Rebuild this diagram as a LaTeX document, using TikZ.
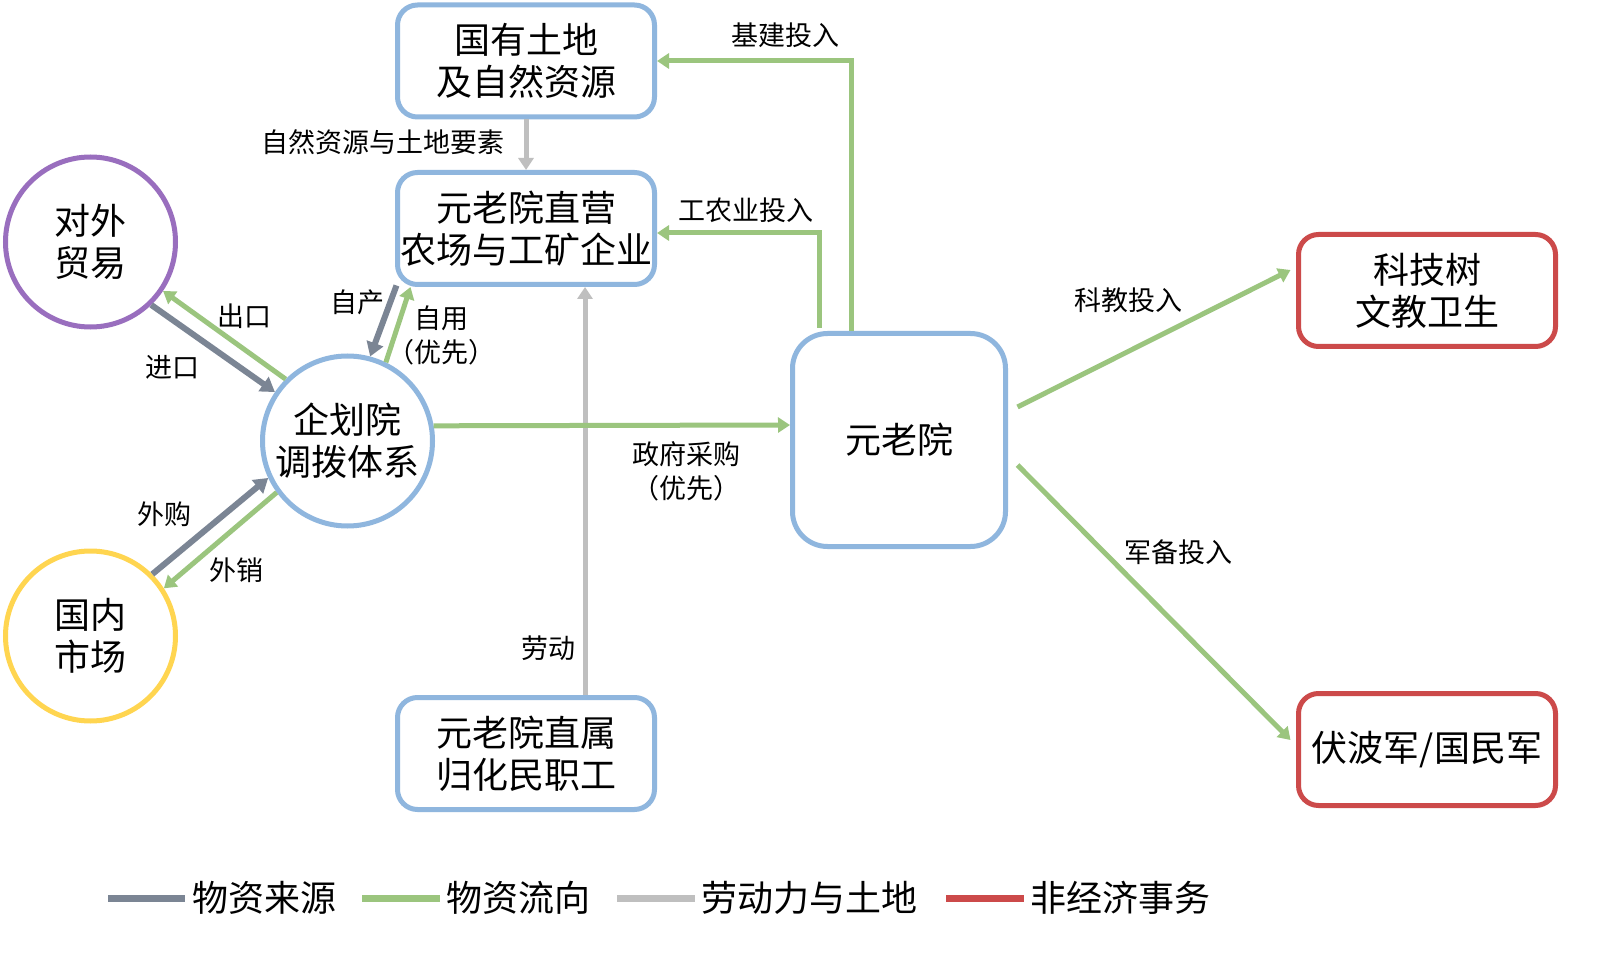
\documentclass[tikz,border=0pt]{standalone}
\usepackage{fontspec}
\setmainfont{Noto Sans CJK SC}
\usetikzlibrary{arrows.meta,calc}
\definecolor{cblue}{RGB}{143,182,222}
\definecolor{cgreen}{RGB}{155,197,126}
\definecolor{cgray}{RGB}{123,133,148}
\definecolor{clight}{RGB}{191,191,191}
\definecolor{cred}{RGB}{204,74,74}
\definecolor{cpurple}{RGB}{153,110,190}
\definecolor{cyellow}{RGB}{255,213,80}
\tikzset{
  box/.style={draw=cblue, line width=5pt, rounded corners=20pt, minimum width=257pt, minimum height=112pt, align=center, inner sep=0pt, font=\fontsize{36}{42}\selectfont},
  redbox/.style={box, draw=cred},
  circ/.style={circle, draw=#1, line width=5pt, minimum size=170pt, inner sep=0pt, align=center, font=\fontsize{36}{42}\selectfont},
  lbl/.style={font=\fontsize{27}{34}\selectfont, inner sep=0pt, align=center},
  legtext/.style={font=\fontsize{36}{42}\selectfont, inner sep=0pt, anchor=west},
  flow/.style={draw=cgreen, line width=5pt, -{Triangle[length=12pt,width=15pt]}},
  src/.style={draw=cgray, line width=6pt, -{Triangle[length=14pt,width=17pt]}},
  lab/.style={draw=clight, line width=5pt, -{Triangle[length=12pt,width=15pt]}}
}
\begin{document}
\begin{tikzpicture}[x=1pt,y=-1pt]
\useasboundingbox[fill=white] (0,0) rectangle (1622,973);
% nodes
\node[box] (land) at (526,61) {国有土地\\及自然资源};
\node[box] (farm) at (526,228.5) {元老院直营\\农场与工矿企业};
\node[box] (labor) at (526,753.5) {元老院直属\\归化民职工};
\node[box, rounded corners=35pt, minimum width=213pt, minimum height=213pt] (senate) at (899,440) {元老院};
\node[redbox] (tech) at (1427,290.5) {科技树\\文教卫生};
\node[redbox] (army) at (1427,749.5) {伏波军/国民军};
\node[circ=cpurple] (trade) at (90.5,242) {对外\\贸易};
\node[circ=cblue] (plan) at (347.5,441) {企划院\\调拨体系};
\node[circ=cyellow] (market) at (90.5,636) {国内\\市场};
% connectors
\draw[flow] ([xshift=-48pt]senate.north) |- (land.east);
\draw[flow] ([xshift=-80pt,yshift=3pt]senate.north) |- ([yshift=-4.5pt]farm.east);
\draw[lab] (land.south) -- (farm.north);
\draw[lab] ([xshift=59pt]labor.north) -- ([xshift=59pt]farm.south);
\draw[flow] (plan.10) -- ([yshift=15pt]senate.west);
\draw[flow] ([xshift=9.5pt,yshift=33pt]senate.east) -- ([xshift=-5.5pt,yshift=20.5pt]tech.west);
\draw[flow] ([xshift=9.5pt,yshift=-25pt]senate.east) -- ([xshift=-5.5pt,yshift=9.5pt]army.west);
\draw[src] ([xshift=1.5pt,yshift=1.5pt]farm.south west) -- (plan.75);
\draw[flow] (plan.64.5) -- ([xshift=15.5pt]farm.south west);
\draw[flow] (plan.135) -- (trade.-34.4);
\draw[src] (trade.-46.5) -- (plan.146.5);
\draw[src] (market.45.2) -- (plan.205.9);
\draw[flow] (plan.216.4) -- (market.33.3);
% labels
\node[lbl] (l1) at (785,35) {基建投入};
\node[lbl] (l2) at (746,210) {工农业投入};
\node[lbl] (l3) at (383,142) {自然资源与土地要素};
\node[lbl] (l4) at (548,648) {劳动};
\node[lbl] (l5) at (686,471) {政府采购\\（优先）};
\node[lbl] (l6) at (1128,300) {科教投入};
\node[lbl] (l7) at (1178,552) {军备投入};
\node[lbl] (l8) at (357,302) {自产};
\node[lbl] (l9) at (441,335) {自用\\（优先）};
\node[lbl] (l10) at (244,316) {出口};
\node[lbl] (l11) at (172,367) {进口};
\node[lbl] (l12) at (164,514) {外购};
\node[lbl] (l13) at (236,570) {外销};
% legend
\draw[cgray, line width=7pt] (108,898) -- (185,898);
\node[legtext] (g1) at (192,898) {物资来源};
\draw[cgreen, line width=7pt] (362,898) -- (440,898);
\node[legtext] (g2) at (446,898) {物资流向};
\draw[clight, line width=7pt] (617,898) -- (695,898);
\node[legtext] (g3) at (701,898) {劳动力与土地};
\draw[cred, line width=7pt] (946,898) -- (1024,898);
\node[legtext] (g4) at (1030,898) {非经济事务};
\end{tikzpicture}
\end{document}
